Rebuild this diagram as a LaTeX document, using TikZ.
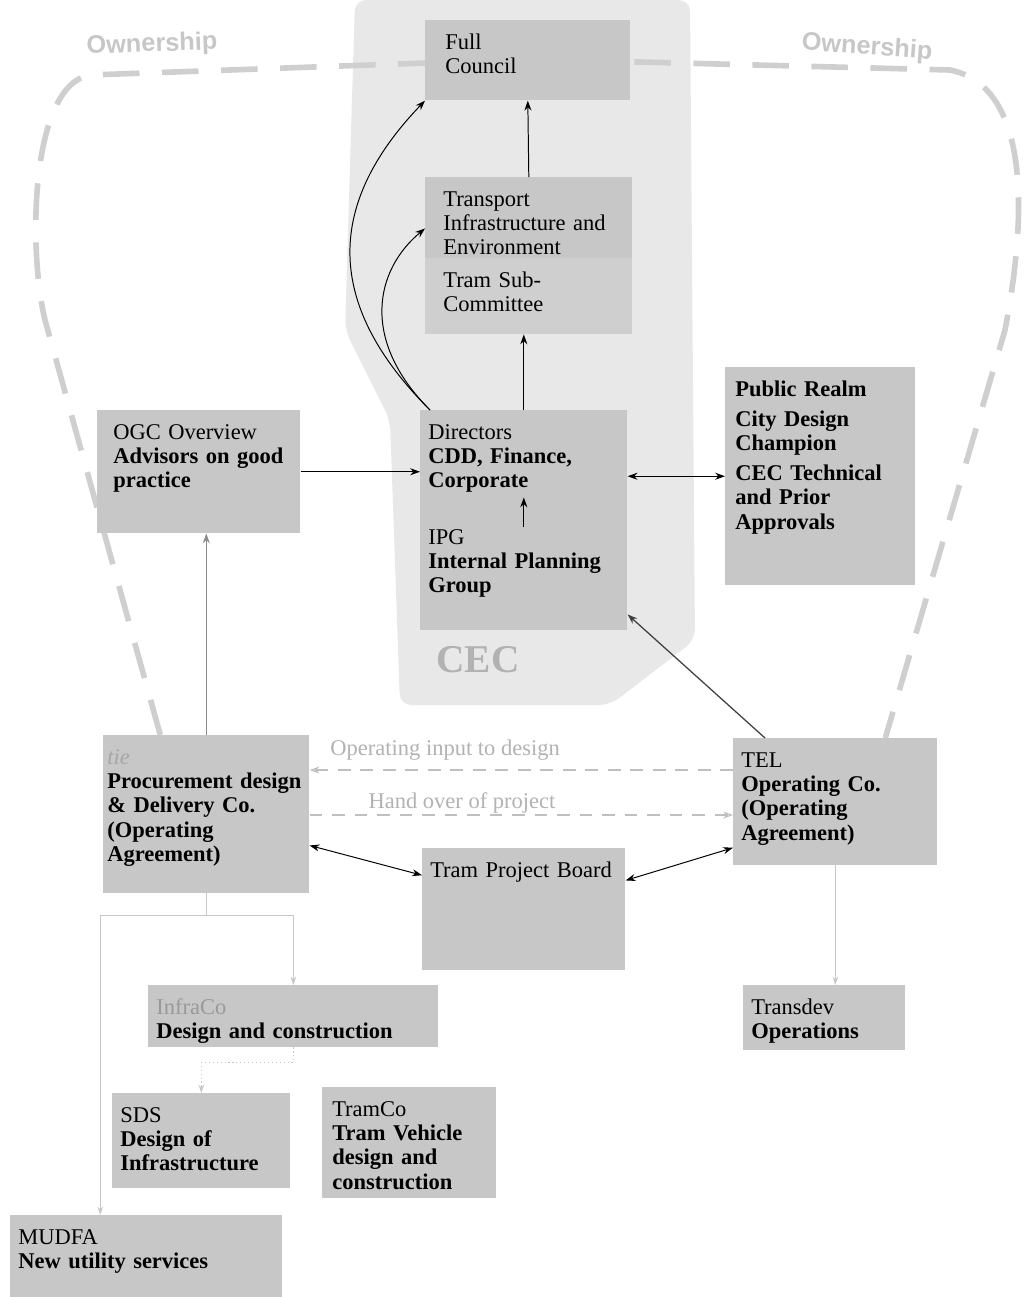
\documentclass[tikz,border=0pt]{standalone}
\usepackage{fontspec}
\setmainfont{Liberation Serif}
\newfontfamily\ownfont{Liberation Sans}
\usetikzlibrary{arrows.meta,calc,positioning,backgrounds}

\begin{document}
\begin{tikzpicture}[x=0.025cm,y=-0.025cm]
    \tikzset{UnitStyle/.style = {fill=black!22, anchor=north west, align=left,
        inner xsep=0.2cm, inner ysep=0.3cm, text height=12pt,
        font=\fontsize{16}{17.3}\selectfont},
      EdgeStyle/.style = {-{Stealth[length=7pt,width=5pt]}, line width=0.7pt},
      BothStyle/.style = {{Stealth[length=7pt,width=5pt]}-{Stealth[length=7pt,width=5pt]}, line width=0.7pt},
      TreeStyle/.style = {-{Stealth[length=6pt,width=4pt]}, draw=black!22, line width=0.8pt},
      FlowStyle/.style = {-{Stealth[length=7pt,width=5pt,open]}, draw=black!25,
        dash pattern=on 9pt off 7pt, line width=0.8pt},
      FlowLabel/.style = {text=black!30, font=\fontsize{16}{17.3}\selectfont, inner sep=1pt},
      OwnerStyle/.style = {draw=black!19, line width=4pt, dash pattern=on 26pt off 16pt},
      OwnerLabel/.style = {text=black!22, font=\ownfont\bfseries\fontsize{18}{20}\selectfont}}
    \useasboundingbox (0,0) rectangle (1024,1297);
    % council side
    \node[UnitStyle, inner xsep=0.5cm, text width=4.125cm, text depth=0.98cm] (council) at (425,20) {Full\\Council};
    \node[UnitStyle, inner xsep=0.45cm, text width=4.275cm, text depth=1.0cm] (tie) at (425,177) {Transport\\Infrastructure and\\Environment};
    \node[UnitStyle, fill=black!19, inner xsep=0.45cm, text width=4.275cm, text depth=0.875cm] (sub) at (425,258) {Tram Sub-\\Committee};
    \node[UnitStyle, text width=4.775cm, text depth=1.6cm] (dir) at (420,410) {Directors\\\textbf{CDD, Finance,}\\\textbf{Corporate}};
    \node[UnitStyle, text width=4.775cm, text depth=1.85cm] (ipg) at (420,515) {IPG\\\textbf{Internal Planning}\\\textbf{Group}};
    \node[UnitStyle, inner xsep=0.4cm, text width=4.275cm, text depth=2.05cm] (ogc) at (97,410) {OGC Overview\\\textbf{Advisors on good}\\\textbf{practice}};
    \node[UnitStyle, inner xsep=0.25cm, text width=4.25cm, text depth=4.425cm,
      font=\fontsize{16}{17.3}\selectfont\bfseries] (realm) at (725,367) {Public Realm\\[4pt]City Design\\Champion\\[4pt]CEC Technical\\and Prior\\Approvals};
    % delivery side
    \node[UnitStyle, inner xsep=0.1cm, text width=4.95cm, text depth=2.925cm] (pdc) at (103,735) {\textcolor{black!35}{\itshape tie}\\\textbf{Procurement design}\\\textbf{\& Delivery Co.}\\\textbf{(Operating}\\\textbf{Agreement)}};
    \node[UnitStyle, text width=4.7cm, text depth=2.15cm] (tel) at (733,738) {TEL\\\textbf{Operating Co.}\\\textbf{(Operating}\\\textbf{Agreement)}};
    \node[UnitStyle, text width=4.675cm, text depth=2.025cm] (tpb) at (422,848) {Tram Project Board};
    \node[UnitStyle, text width=3.65cm, text depth=0.6cm] (transdev) at (743,985) {Transdev\\\textbf{Operations}};
    \node[UnitStyle, text width=6.85cm, text depth=0.525cm] (infraco) at (148,985) {\textcolor{black!40}{InfraCo}\\\textbf{Design and construction}};
    \node[UnitStyle, text width=4.05cm, text depth=1.35cm] (sds) at (112,1093) {SDS\\\textbf{Design of}\\\textbf{Infrastructure}};
    \node[UnitStyle, inner xsep=0.25cm, text width=3.85cm, text depth=1.75cm] (tramco) at (322,1087) {TramCo\\\textbf{Tram Vehicle}\\\textbf{design and}\\\textbf{construction}};
    \node[UnitStyle, text width=6.4cm, text depth=1.025cm] (mudfa) at (10,1215) {MUDFA\\\textbf{New utility services}};
    % labels
    \node[OwnerLabel, rotate=2] (ownl) at (152,45) {Ownership};
    \node[OwnerLabel, rotate=-4] (ownr) at (867,48) {Ownership};
    \node[text=black!30, font=\fontsize{28}{30}\selectfont\bfseries] (cec) at (478,660) {CEC};
    % reporting lines
    \draw[EdgeStyle] (tie.north) -- (council.south);
    \draw[EdgeStyle] (dir.north) -- (dir.north |- sub.south);
    \draw[EdgeStyle] ([xshift=0.25cm]dir.north west) .. controls (330,310) and (320,210) .. (council.south west);
    \draw[EdgeStyle] ([xshift=0.25cm]dir.north west) .. controls (360,340) and (375,270) .. ([yshift=0.75cm]tie.south west);
    \draw[EdgeStyle] ([yshift=-0.3cm]ipg.north) -- ([yshift=0.45cm]dir.south);
    \draw[EdgeStyle] (ogc.east) -- (ogc.east -| dir.west);
    \draw[BothStyle] (realm.west) -- (realm.west -| dir.east);
    \draw[EdgeStyle, draw=black!75, line width=0.9pt] ([xshift=0.8cm]tel.north west) -- ([yshift=0.4cm]ipg.south east);
    \draw[EdgeStyle, draw=black!45] (pdc.north) -- (pdc.north |- ogc.south);
    \draw[BothStyle] ([yshift=-0.78cm]pdc.east) -- ([yshift=0.85cm]tpb.west);
    \draw[BothStyle] ([yshift=0.72cm]tpb.east) -- ([yshift=-1.15cm]tel.west);
    \draw[FlowStyle] ([yshift=-0.8cm]tel.north west) -- ([yshift=-0.8cm]tel.north west -| pdc.east)
      node[FlowLabel, above=0.2cm, pos=0.68] {Operating input to design};
    \draw[FlowStyle] ([yshift=-2cm]pdc.north east) -- ([yshift=-2cm]pdc.north east -| tel.west)
      node[FlowLabel, above=0pt, pos=0.36] {Hand over of project};
    % contracts below tie
    \coordinate (split) at ([yshift=-0.55cm]pdc.south);
    \draw[TreeStyle, -] (pdc.south) -- (split);
    \draw[TreeStyle] (split) -| (infraco.north);
    \draw[TreeStyle] (split) -| ([xshift=-1.15cm]mudfa.north);
    \draw[TreeStyle, dotted] (infraco.south) -- ++(0,15) -| (sds.north);
    \draw[TreeStyle] (tel.south) -- (tel.south |- transdev.north);
    \begin{pgfonlayer}{background}
      \fill[black!9, rounded corners=8pt] (355,0) -- (690,0) -- (695,640) -- (610,705) -- (400,705) -- (390,420) -- (345,330) -- cycle;
      \coordinate (own1) at ([xshift=-1.15cm]pdc.north);
      \coordinate (own2) at ([xshift=1.25cm]tel.north);
      \draw[OwnerStyle] (own1) -- (45,320) .. controls (28,250) and (30,85) .. (90,75) -- (425,63) -- (640,62)
        -- (950,70) .. controls (1025,85) and (1030,200) .. (1005,330) -- (own2);
    \end{pgfonlayer}
\end{tikzpicture}
\end{document}
